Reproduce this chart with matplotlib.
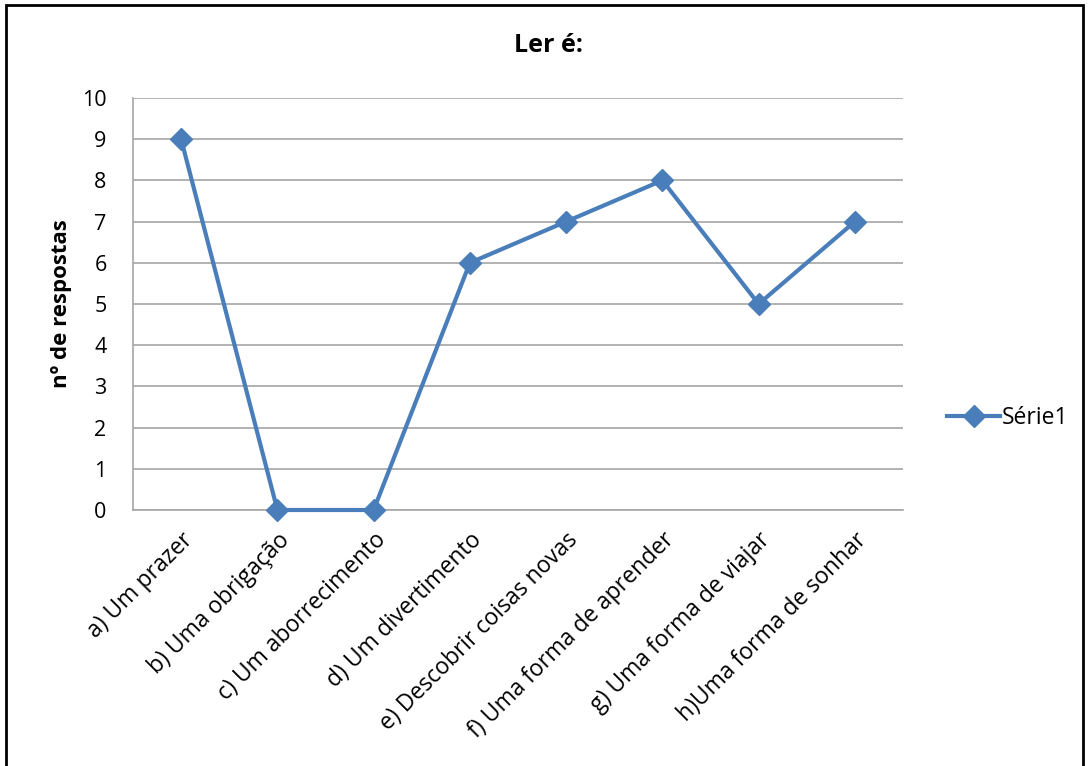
import matplotlib
matplotlib.use('Agg')
import matplotlib.pyplot as plt
from matplotlib.patches import Rectangle

# dados
categorias = ['a) Um prazer', 'b) Uma obrigação', 'c) Um aborrecimento', 'd) Um divertimento',
              'e) Descobrir coisas novas', 'f) Uma forma de aprender', 'g) Uma forma de viajar',
              'h)Uma forma de sonhar']
respostas = [9, 0, 0, 6, 7, 8, 5, 7]
nome_serie = 'Série1'

plt.rcParams['font.family'] = ['Open Sans', 'DejaVu Sans']

fig = plt.figure(figsize=(10.89, 7.66), dpi=100)
ax = fig.add_axes([133/1089, 1-510/766, (903-133)/1089, (510-98)/766])

cor = '#4A7EBB'
x = list(range(len(categorias)))
ax.plot(x, respostas, color=cor, linewidth=3, marker='D', markersize=11,
        label=nome_serie, clip_on=False, zorder=3)

ax.set_xlim(-0.5, len(categorias) - 0.5)
ax.set_ylim(0, 10)
ax.set_yticks(range(0, 11))
ax.yaxis.grid(True, color='#A6A6A6', linewidth=1.2)
ax.set_axisbelow(True)
for s in ['top', 'right']:
    ax.spines[s].set_visible(False)
for s in ['left', 'bottom']:
    ax.spines[s].set_color('#A6A6A6')
    ax.spines[s].set_linewidth(1.2)
ax.tick_params(axis='y', length=0, labelsize=15.5, colors='black', pad=19)
ax.set_xticks(x)
ax.set_xticklabels(categorias, rotation=45, ha='right', va='top', rotation_mode='anchor')
ax.tick_params(axis='x', length=0, labelsize=16.5, colors='black', pad=13)

ax.set_ylabel('nº de respostas', fontsize=16, fontweight='bold', labelpad=7)
fig.text(548/1089, 1-45/766, 'Ler é:', fontsize=18, fontweight='bold', ha='center', va='center')

fig.legend(loc='center left', bbox_to_anchor=(938/1089, 1-418/766), frameon=False,
           fontsize=16.5, handlelength=2.3, handletextpad=0.1, borderaxespad=0)

borda = Rectangle((6/1089, -0.02), (1083-6)/1089, 1.02-5/766, transform=fig.transFigure,
                  fill=False, edgecolor='black', linewidth=2, clip_on=False)
fig.patches.append(borda)

fig.savefig('out.png', dpi=100)
